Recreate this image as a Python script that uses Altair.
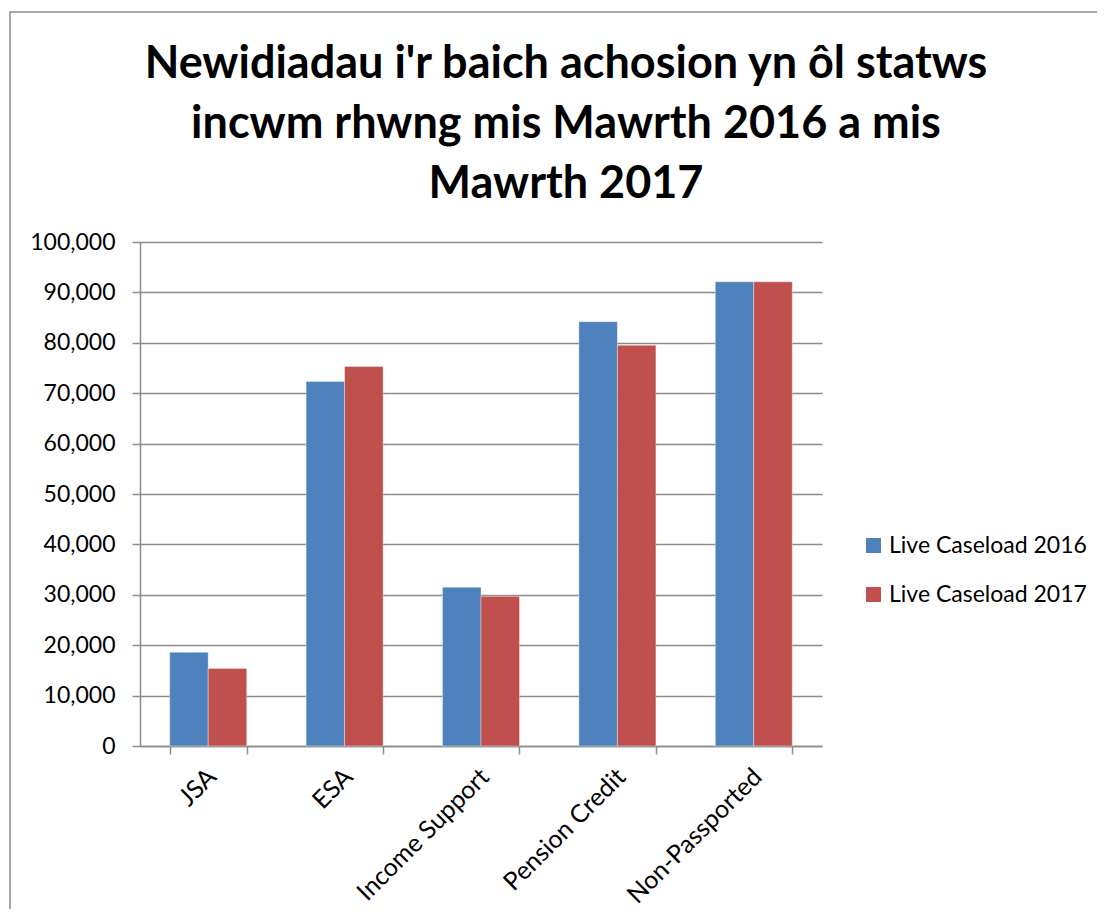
import altair as alt
import pandas as pd

categories = ["JSA", "ESA", "Income Support", "Pension Credit", "Non-Passported"]
series = ["Live Caseload 2016", "Live Caseload 2017"]
caseload_2016 = [18600, 72300, 31500, 84200, 92100]
caseload_2017 = [15400, 75300, 29700, 79500, 92100]
y_ticks = list(range(0, 100001, 10000))
title_lines = [
    "Newidiadau i'r baich achosion yn ôl statws",
    "incwm rhwng mis Mawrth 2016 a mis",
    "Mawrth 2017",
]
colors = ["#4F81BD", "#C0504D"]

rows = []
for c, a, b in zip(categories, caseload_2016, caseload_2017):
    rows.append({"category": c, "series": series[0], "value": a})
    rows.append({"category": c, "series": series[1], "value": b})
df = pd.DataFrame(rows)

W, H = 682, 504
FONT = "Lato"
GRAY = "#8c8c8c"

bars = alt.Chart(df).mark_bar(stroke="white", strokeWidth=0.6, strokeOpacity=0.6).encode(
    x=alt.X(
        "category:N",
        sort=categories,
        title=None,
        scale=alt.Scale(paddingInner=0.4355, paddingOuter=0.2178),
        axis=alt.Axis(
            labelAngle=315,
            labelAlign="right",
            labelBaseline="top",
            tickBand="extent",
            tickSize=8,
            tickColor=GRAY,
            tickWidth=1.5,
            domainColor=GRAY,
            domainWidth=1.5,
            labelFont=FONT,
            labelFontSize=25,
            labelColor="black",
            labelPadding=10,
            labelOffset=-5,
            labelLimit=300,
            grid=False,
        ),
    ),
    xOffset=alt.XOffset("series:N", sort=series),
    y=alt.Y(
        "value:Q",
        title=None,
        scale=alt.Scale(domain=[0, 100000], nice=False),
        axis=alt.Axis(
            values=y_ticks,
            format=",d",
            tickSize=8,
            tickColor=GRAY,
            tickWidth=1.5,
            domainColor=GRAY,
            domainWidth=1.5,
            gridColor=GRAY,
            gridWidth=1.5,
            labelFont=FONT,
            labelFontSize=23,
            labelColor="black",
            labelPadding=17,
        ),
    ),
    color=alt.Color(
        "series:N",
        sort=series,
        scale=alt.Scale(domain=series, range=colors),
        legend=alt.Legend(
            orient="none",
            legendX=722,
            legendY=292,
            title=None,
            symbolType="square",
            symbolSize=225,
            symbolStrokeWidth=0,
            labelFont=FONT,
            labelFontSize=23,
            labelColor="black",
            labelOffset=4,
            labelLimit=400,
            rowPadding=25,
        ),
    ),
)

frame = alt.Chart(pd.DataFrame({"k": [0]})).mark_rect(
    filled=False, stroke=GRAY, strokeWidth=1.5
).encode(
    x=alt.value(-130), x2=alt.value(1200), y=alt.value(-230), y2=alt.value(900)
)

chart = alt.layer(frame, bars).properties(
    width=W,
    height=H,
    autosize=alt.AutoSizeParams(type="none"),
    padding={"left": 132, "top": 234, "right": 275, "bottom": 163},
    title=alt.TitleParams(
        text=title_lines,
        font=FONT,
        fontSize=45,
        fontWeight="bold",
        color="black",
        anchor="middle",
        frame="group",
        dx=85,
        lineHeight=60,
        offset=-196,
    ),
).configure_view(stroke=None)

chart.save("out.html", embed_options={"renderer": "svg", "actions": False})
